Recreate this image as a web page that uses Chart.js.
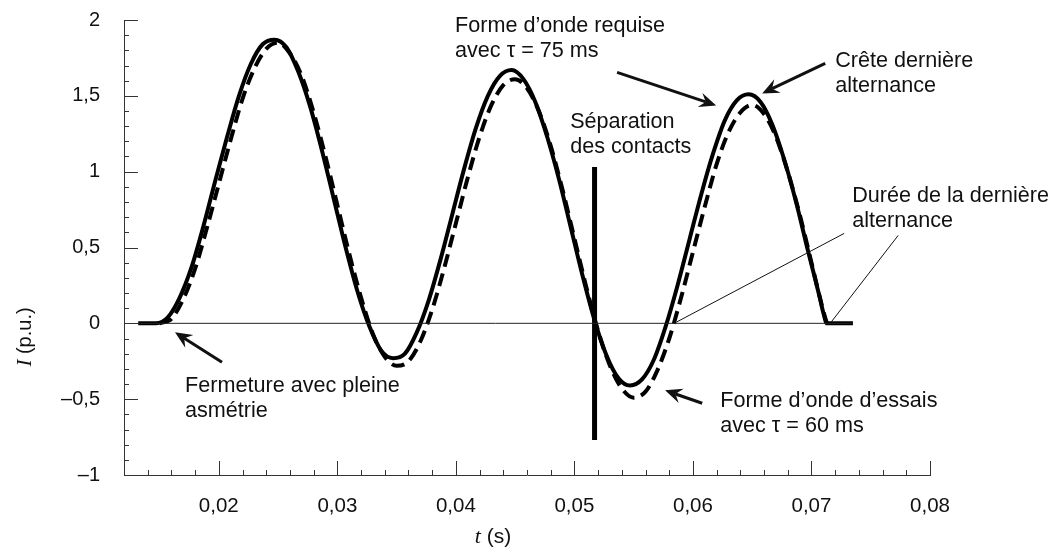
<!DOCTYPE html>
<html>
<head>
<meta charset="utf-8">
<script src="https://cdn.jsdelivr.net/npm/chart.js@4/dist/chart.umd.min.js"></script>
<style>
  html, body { margin: 0; padding: 0; background: #fff; }
  #wrap { width: 1061px; height: 551px; }
</style>
</head>
<body>
<div id="wrap"><canvas id="chart" width="1061" height="551"></canvas></div>
<script>
// axis ticks
const xTicks = [0.02, 0.03, 0.04, 0.05, 0.06, 0.07, 0.08];
const xTickLabels = ['0,02', '0,03', '0,04', '0,05', '0,06', '0,07', '0,08'];
const yTicks = [-1, -0.5, 0, 0.5, 1, 1.5, 2];
const yTickLabels = ['–1', '–0,5', '0', '0,5', '1', '1,5', '2'];

// required waveform, tau = 75 ms (solid)
const solidT = [0.0132, 0.0147, 0.0157, 0.0167, 0.0177, 0.0187, 0.0197, 0.0207, 0.0217, 0.0227, 0.0237,
  0.0247, 0.0257, 0.0267, 0.0277, 0.0287, 0.0297, 0.0307, 0.0317, 0.0327, 0.0337,
  0.0347, 0.0357, 0.0367, 0.0377, 0.0387, 0.0397, 0.0407, 0.0417, 0.0427, 0.0437,
  0.0447, 0.0457, 0.0467, 0.0477, 0.0487, 0.0497, 0.0507, 0.0517, 0.0527, 0.0537,
  0.0547, 0.0557, 0.0567, 0.0577, 0.0587, 0.0597, 0.0607, 0.0617, 0.0627, 0.0637,
  0.0647, 0.0657, 0.0667, 0.0677, 0.0687, 0.0697, 0.0707, 0.0710, 0.0713, 0.0735];
const solidI = [0, 0, 0.04, 0.17, 0.37, 0.64, 0.94, 1.23, 1.50, 1.71, 1.84,
  1.87, 1.82, 1.66, 1.43, 1.14, 0.82, 0.50, 0.21, -0.02, -0.18,
  -0.23, -0.20, -0.06, 0.15, 0.42, 0.72, 1.02, 1.29, 1.50, 1.63,
  1.67, 1.61, 1.46, 1.23, 0.95, 0.63, 0.31, 0.02, -0.21, -0.36,
  -0.41, -0.37, -0.24, -0.02, 0.25, 0.55, 0.85, 1.12, 1.34, 1.47,
  1.51, 1.46, 1.31, 1.08, 0.80, 0.48, 0.17, 0.07, 0, 0];

// test waveform, tau = 60 ms (dashed)
const dashT = [0.0150, 0.0160, 0.0170, 0.0180, 0.0190, 0.0200, 0.0210, 0.0220, 0.0230, 0.0240,
  0.0250, 0.0260, 0.0270, 0.0280, 0.0290, 0.0300, 0.0310, 0.0320, 0.0330, 0.0340,
  0.0350, 0.0360, 0.0370, 0.0380, 0.0390, 0.0400, 0.0410, 0.0420, 0.0430, 0.0440,
  0.0450, 0.0460, 0.0470, 0.0480, 0.0490, 0.0500, 0.0510, 0.0520, 0.0530, 0.0540,
  0.0550, 0.0560, 0.0570, 0.0580, 0.0590, 0.0600, 0.0610, 0.0620, 0.0630, 0.0640,
  0.0650, 0.0660, 0.0670, 0.0680, 0.0690, 0.0700, 0.0710, 0.0713];
const dashI = [0, 0.03, 0.16, 0.36, 0.63, 0.92, 1.21, 1.48, 1.68, 1.81,
  1.85, 1.78, 1.63, 1.39, 1.10, 0.78, 0.46, 0.17, -0.07, -0.22,
  -0.28, -0.25, -0.12, 0.09, 0.36, 0.66, 0.96, 1.23, 1.44, 1.57,
  1.61, 1.55, 1.40, 1.17, 0.88, 0.56, 0.24, -0.05, -0.28, -0.43,
  -0.49, -0.45, -0.31, -0.10, 0.17, 0.47, 0.77, 1.05, 1.26, 1.39,
  1.44, 1.38, 1.23, 1.00, 0.72, 0.40, 0.08, 0];

// zero reference line and contact separation bar
const zeroT = [0.0132, 0.0735];
const zeroI = [0, 0];
const sepT = [0.0517, 0.0517];
const sepI = [1.03, -0.77];

// annotations (data coordinates)
const notes = [
  { t: 0.03993, i: 1.919, lines: ['Forme d’onde requise', 'avec τ = 75 ms'] },
  { t: 0.04964, i: 1.286, lines: ['Séparation', 'des contacts'] },
  { t: 0.07200, i: 1.688, lines: ['Crête dernière', 'alternance'] },
  { t: 0.07343, i: 0.798, lines: ['Durée de la dernière', 'alternance'] },
  { t: 0.06230, i: -0.554, lines: ['Forme d’onde d’essais', 'avec τ = 60 ms'] },
  { t: 0.01715, i: -0.455, lines: ['Fermeture avec pleine', 'asmétrie'] }
];
const arrows = [
  { from: [0.02027, -0.257], to: [0.01630, -0.059] },
  { from: [0.05360, 1.655], to: [0.06196, 1.437] },
  { from: [0.07116, 1.714], to: [0.06584, 1.516] },
  { from: [0.06078, -0.527], to: [0.05765, -0.442] }
];
const leaders = [
  { from: [0.07276, 0.593], to: [0.05858, 0.007] },
  { from: [0.07732, 0.580], to: [0.07158, 0] }
];

const SANS = '"Liberation Sans", Arial, sans-serif';
const SERIF = '"Liberation Serif", "Times New Roman", serif';

function pts(T, I) {
  return T.map((t, k) => ({ x: t, y: I[k] }));
}

const decor = {
  id: 'decor',
  afterDraw(chart) {
    const ctx = chart.ctx;
    const xs = chart.scales.x, ys = chart.scales.y;
    const area = chart.chartArea;
    ctx.save();

    // inward tick marks
    ctx.strokeStyle = '#333';
    ctx.lineWidth = 1;
    ctx.beginPath();
    for (let k = 0; k <= 34; k++) {
      const v = 0.012 + k * 0.002;
      const px = Math.round(xs.getPixelForValue(v)) + 0.5;
      const major = xTicks.some(m => Math.abs(m - v) < 1e-6);
      ctx.moveTo(px, area.bottom);
      ctx.lineTo(px, area.bottom - (major ? 14 : 5));
    }
    for (let k = 0; k <= 30; k++) {
      const v = -1 + k * 0.1;
      const py = Math.round(ys.getPixelForValue(v)) + 0.5;
      const major = yTicks.some(m => Math.abs(m - v) < 1e-6);
      ctx.moveTo(area.left, py);
      ctx.lineTo(area.left + (major ? 14 : 5), py);
    }
    ctx.stroke();

    // annotation text
    ctx.fillStyle = '#111';
    ctx.font = '21.6px ' + SANS;
    ctx.textBaseline = 'alphabetic';
    ctx.textAlign = 'left';
    notes.forEach(n => {
      const x = xs.getPixelForValue(n.t), y = ys.getPixelForValue(n.i);
      n.lines.forEach((s, k) => ctx.fillText(s, x, y + k * 25));
    });

    // thin leader lines
    ctx.strokeStyle = '#111';
    ctx.lineWidth = 1;
    leaders.forEach(l => {
      ctx.beginPath();
      ctx.moveTo(xs.getPixelForValue(l.from[0]), ys.getPixelForValue(l.from[1]));
      ctx.lineTo(xs.getPixelForValue(l.to[0]), ys.getPixelForValue(l.to[1]));
      ctx.stroke();
    });

    // arrows with barbed heads
    arrows.forEach(a => {
      const x0 = xs.getPixelForValue(a.from[0]), y0 = ys.getPixelForValue(a.from[1]);
      const x1 = xs.getPixelForValue(a.to[0]), y1 = ys.getPixelForValue(a.to[1]);
      const len = Math.hypot(x1 - x0, y1 - y0);
      const ux = (x1 - x0) / len, uy = (y1 - y0) / len;
      const nx = -uy, ny = ux;
      const L = 17, W = 7.5, notch = 6;
      ctx.lineWidth = 3;
      ctx.beginPath();
      ctx.moveTo(x0, y0);
      ctx.lineTo(x1 - (L - notch) * ux, y1 - (L - notch) * uy);
      ctx.stroke();
      ctx.beginPath();
      ctx.moveTo(x1, y1);
      ctx.lineTo(x1 - L * ux + W * nx, y1 - L * uy + W * ny);
      ctx.lineTo(x1 - (L - notch) * ux, y1 - (L - notch) * uy);
      ctx.lineTo(x1 - L * ux - W * nx, y1 - L * uy - W * ny);
      ctx.closePath();
      ctx.fill();
    });

    // axis titles: italic symbol + sans unit
    ctx.font = 'italic 21px ' + SERIF;
    const wI = ctx.measureText('I').width;
    ctx.font = '20px ' + SANS;
    const wU = ctx.measureText(' (p.u.)').width;
    ctx.translate(31, 337);
    ctx.rotate(-Math.PI / 2);
    let sx = -(wI + wU) / 2;
    ctx.font = 'italic 21px ' + SERIF;
    ctx.fillText('I', sx, 0);
    ctx.font = '20px ' + SANS;
    ctx.fillText(' (p.u.)', sx + wI, 0);
    ctx.setTransform(1, 0, 0, 1, 0, 0);

    ctx.font = 'italic 22px ' + SERIF;
    const wt = ctx.measureText('t').width;
    ctx.font = '21px ' + SANS;
    const ws = ctx.measureText(' (s)').width;
    sx = 493 - (wt + ws) / 2;
    ctx.font = 'italic 22px ' + SERIF;
    ctx.fillText('t', sx, 543);
    ctx.font = '21px ' + SANS;
    ctx.fillText(' (s)', sx + wt, 543);

    ctx.restore();
  }
};

const ctx = document.getElementById('chart').getContext('2d');
const chart = new Chart(ctx, {
  type: 'scatter',
  data: {
    datasets: [
      {
        label: 'zero',
        data: pts(zeroT, zeroI),
        showLine: true,
        borderColor: '#222',
        borderWidth: 1,
        pointRadius: 0
      },
      {
        label: 'Forme d’onde d’essais, τ = 60 ms',
        data: pts(dashT, dashI),
        showLine: true,
        borderColor: '#000',
        borderWidth: 4,
        borderDash: [13, 7],
        cubicInterpolationMode: 'monotone',
        pointRadius: 0
      },
      {
        label: 'Forme d’onde requise, τ = 75 ms',
        data: pts(solidT, solidI),
        showLine: true,
        borderColor: '#000',
        borderWidth: 4,
        cubicInterpolationMode: 'monotone',
        pointRadius: 0
      },
      {
        label: 'Séparation des contacts',
        data: pts(sepT, sepI),
        showLine: true,
        borderColor: '#000',
        borderWidth: 5,
        borderCapStyle: 'butt',
        pointRadius: 0
      }
    ]
  },
  options: {
    responsive: false,
    animation: false,
    devicePixelRatio: 1,
    layout: { padding: { top: 20, right: 131, bottom: 0, left: 0 } },
    plugins: { legend: { display: false }, tooltip: { enabled: false } },
    scales: {
      x: {
        type: 'linear',
        min: 0.012,
        max: 0.08,
        afterBuildTicks: s => { s.ticks = xTicks.map(v => ({ value: v })); },
        afterFit: s => { s.height = 76; s.paddingLeft = 0; s.paddingRight = 0; },
        grid: { display: false, drawTicks: false },
        border: { display: true, color: '#333', width: 1 },
        ticks: {
          autoSkip: false,
          maxRotation: 0,
          padding: 19,
          color: '#111',
          font: { family: SANS, size: 20.5 },
          callback: v => xTickLabels[xTicks.indexOf(v)]
        }
      },
      y: {
        min: -1,
        max: 2,
        afterBuildTicks: s => { s.ticks = yTicks.map(v => ({ value: v })); },
        afterFit: s => { s.width = 124; s.paddingTop = 0; s.paddingBottom = 0; },
        grid: { display: false, drawTicks: false },
        border: { display: true, color: '#333', width: 1 },
        ticks: {
          padding: 24,
          color: '#111',
          font: { family: SANS, size: 20 },
          callback: v => yTickLabels[yTicks.indexOf(v)]
        }
      }
    }
  },
  plugins: [decor]
});
</script>
</body>
</html>
